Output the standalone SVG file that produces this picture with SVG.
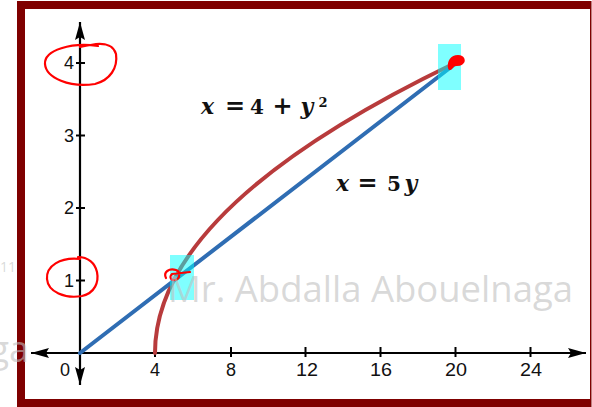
<svg xmlns="http://www.w3.org/2000/svg" width="592" height="407" viewBox="0 0 592 407">
<style>
.ax{stroke:#000;stroke-width:2.2;fill:none}
.tk{stroke:#000;stroke-width:2}
.num{font-family:"Liberation Sans",Arial,sans-serif;font-size:18px;fill:#111}
.eq{font-family:"DejaVu Serif","Liberation Serif",serif;font-size:20px;font-weight:bold;fill:#111}
.op{font-size:24px}
.it{font-style:italic;font-size:22px}
.ink{stroke:#ff0000;stroke-width:2.2;fill:none;stroke-linecap:round;stroke-linejoin:round}
.wm{font-family:"Open Sans","Liberation Sans",sans-serif;fill:#bfbfbf;fill-opacity:0.6}
.hl{fill:#00ffff;fill-opacity:0.5}
</style>
<defs>
<marker id="arr" viewBox="0 0 18 10" refX="18" refY="5" markerWidth="18" markerHeight="10" markerUnits="userSpaceOnUse" orient="auto-start-reverse">
<path d="M0,0 L18,5 L0,10 L3,5 z" fill="#000"/>
</marker>
</defs>
<g id="frame">
<rect x="17" y="1" width="574.5" height="406" fill="#7f0000"/>
<rect x="25" y="9" width="565" height="390" fill="#ffffff"/>
</g>
<g id="axes">
<line class="ax" x1="80" y1="385" x2="80" y2="22" marker-start="url(#arr)" marker-end="url(#arr)"/>
<line class="ax" x1="31" y1="353" x2="586" y2="353" marker-start="url(#arr)" marker-end="url(#arr)"/>
<g id="ticks">
<line class="tk" x1="76" y1="63" x2="85" y2="63"/>
<line class="tk" x1="76" y1="135.5" x2="85" y2="135.5"/>
<line class="tk" x1="76" y1="208" x2="85" y2="208"/>
<line class="tk" x1="76" y1="280.5" x2="85" y2="280.5"/>
<line class="tk" x1="155" y1="347" x2="155" y2="357"/>
<line class="tk" x1="231" y1="347" x2="231" y2="357"/>
<line class="tk" x1="305.5" y1="347" x2="305.5" y2="357"/>
<line class="tk" x1="380.5" y1="347" x2="380.5" y2="357"/>
<line class="tk" x1="455.5" y1="347" x2="455.5" y2="357"/>
<line class="tk" x1="530.5" y1="347" x2="530.5" y2="357"/>
</g>
<g id="labels" class="num">
<text x="74" y="69" text-anchor="end">4</text>
<text x="74" y="141.5" text-anchor="end">3</text>
<text x="74" y="214" text-anchor="end">2</text>
<text x="74" y="286.5" text-anchor="end">1</text>
<text x="65" y="376" text-anchor="middle">0</text>
<text x="155" y="376" text-anchor="middle">4</text>
<text x="231" y="376" text-anchor="middle">8</text>
<text x="296" y="376" textLength="22" lengthAdjust="spacingAndGlyphs">12</text>
<text x="370" y="376" textLength="22" lengthAdjust="spacingAndGlyphs">16</text>
<text x="445" y="376" textLength="22" lengthAdjust="spacingAndGlyphs">20</text>
<text x="520" y="376" textLength="22" lengthAdjust="spacingAndGlyphs">24</text>
</g>
</g>
<g id="connectors">
<path id="parabola" d="M155,353 Q155,208 453,64" fill="none" stroke="#b83b3c" stroke-width="4" stroke-linecap="round"/>
<line id="line" x1="80" y1="353" x2="455" y2="64" stroke="#2f6db3" stroke-width="4" stroke-linecap="round"/>
</g>
<g id="eq1" class="eq" text-anchor="middle">
<text y="114"><tspan x="207.5" class="it">x</tspan><tspan x="235" class="op">=</tspan><tspan x="257">4</tspan><tspan x="282.5" class="op">+</tspan><tspan x="307" class="it">y</tspan><tspan x="323" y="107" font-size="13">2</tspan></text>
</g>
<g id="eq2" class="eq" text-anchor="middle">
<text y="191"><tspan x="342.5" class="it">x</tspan><tspan x="367.5" class="op">=</tspan><tspan x="394">5</tspan><tspan x="411" class="it">y</tspan></text>
</g>
<g id="highlights">
<rect class="hl" x="438" y="44" width="23" height="46"/>
<rect class="hl" x="170" y="255" width="24" height="45"/>
</g>
<g id="annotations">
<path class="ink" d="M98,46 C72,42 44,50 45,64 C46,78 70,88 95,84 C110,80 118,68 116,54 C114,46 106,43 96,44 C90,45 84,46 80,47"/>
<path class="ink" d="M80,259 C60,257 46,266 47,279 C48,292 65,299 82,296 C95,293 99,282 97,272 C95,263 88,257 78,257"/>
<path class="ink" stroke-width="3" d="M166,278 C163,272 169,268 176,270 C181,272 180,279 175,280 C171,281 169,277 172,274 L190,272"/>
<path d="M450,68 C449,62 452,57 458,57 C463,57 464,61 461,63 C458,65 454,63 452,66 z" fill="#ff0000" stroke="#ff0000" stroke-width="4" stroke-linejoin="round"/>
</g>
<g id="watermark" class="wm">
<text x="168" y="302" font-size="36" textLength="405" lengthAdjust="spacingAndGlyphs">Mr. Abdalla Abouelnaga</text>
<text x="29" y="362" font-size="36" text-anchor="end">ga</text>
<text x="0" y="272" font-size="14">11</text>
</g>
</svg>
